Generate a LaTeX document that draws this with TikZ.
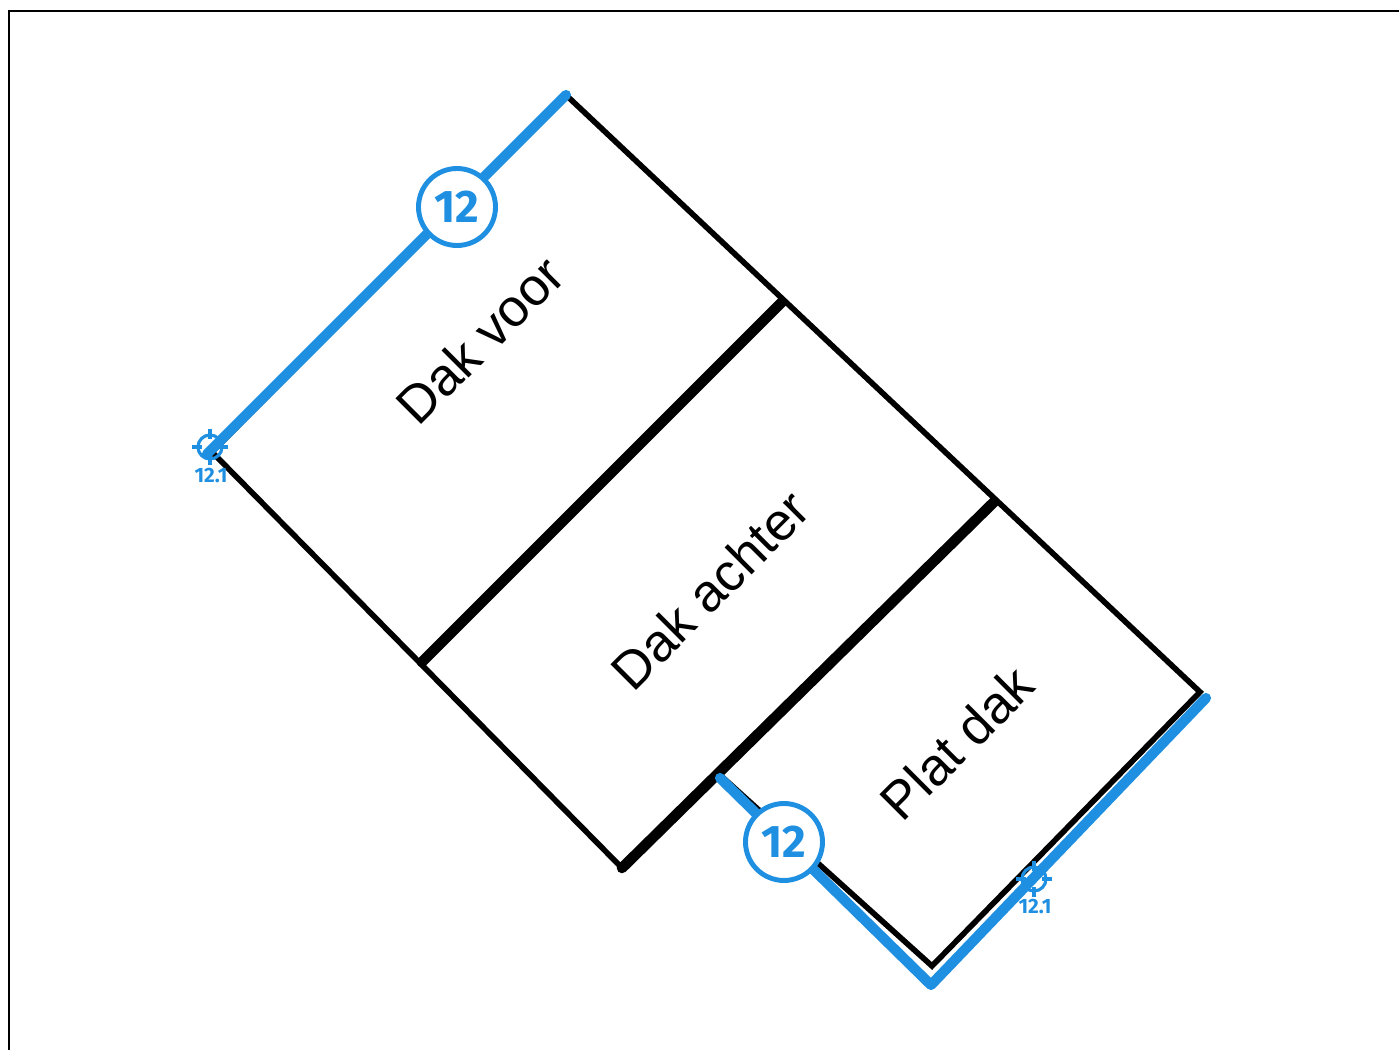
\documentclass[tikz,border=0pt]{standalone}
\usepackage{fontspec}
\setmainfont{Liberation Sans}
\newfontfamily\badgefont{Fira Sans}
\definecolor{dakblue}{HTML}{1E8FE1}
\tikzset{
    edge/.style={line width=1.6pt, line cap=round, line join=miter},
    ridge/.style={line width=3pt, line cap=round},
    measure/.style={dakblue, line width=2.9pt, line cap=round, line join=round},
    badge/.style={circle, draw=dakblue, fill=white, line width=1.4pt, minimum size=0.77cm, inner sep=0pt,
        text=dakblue, font=\badgefont\bfseries\fontsize{13}{13}\selectfont},
    roofname/.style={rotate=45, font=\fontsize{15}{15}\selectfont},
    pointname/.style={text=dakblue, inner sep=0pt, font=\badgefont\bfseries\fontsize{5.9}{5.9}\selectfont},
    target/.pic={
        \draw[dakblue, line width=0.9pt] (0,0) circle (0.12);
        \draw[dakblue, line width=0.9pt] (-0.18,0) -- (-0.08,0) (0.08,0) -- (0.18,0)
            (0,-0.18) -- (0,-0.08) (0,0.08) -- (0,0.18);
    }
}
\begin{document}
\begin{tikzpicture}
    \useasboundingbox (0,0) rectangle (13.99,10.5);

    % Frame
    \coordinate (framebl) at (0.09,0);
    \coordinate (frametl) at (0.09,10.39);
    \coordinate (frametr) at (13.99,10.39);
    \draw[line width=0.85pt] (framebl) -- (frametl) -- (frametr);

    % Corners of the roof
    \coordinate (top) at (5.66,9.55);
    \coordinate (left) at (2.12,5.98);
    \coordinate (bottom) at (6.22,1.82);
    \coordinate (right) at (12.0,3.58);
    \coordinate (low) at (9.32,0.84);
    \coordinate (ridgeAa) at (7.82,7.48);
    \coordinate (ridgeAb) at (4.22,3.88);
    \coordinate (ridgeBa) at (9.94,5.48);
    \coordinate (flat) at (7.2,2.75);

    % Draw the roof
    \draw[edge] (left) -- (top) -- (right) -- (low) -- (flat);
    \draw[edge] (left) -- (bottom);
    \draw[ridge] (ridgeAa) -- (ridgeAb);
    \draw[ridge] (ridgeBa) -- (bottom);

    % Names of the roof parts
    \node[roofname] (voor) at (4.8,7.1) {Dak voor};
    \node[roofname] (achter) at (7.1,4.6) {Dak achter};
    \node[roofname] (plat) at (9.57,3.07) {Plat dak};

    % Draw the measured edges
    \pic at (2.1,6.03) {target};
    \pic at (10.34,1.71) {target};
    \coordinate (blueA) at (5.66,9.55);
    \coordinate (blueB) at (2.07,5.96);
    \coordinate (blueC) at (7.2,2.72);
    \coordinate (blueD) at (9.31,0.65);
    \coordinate (blueE) at (12.06,3.52);
    \draw[measure] (blueA) -- (blueB);
    \draw[measure] (blueC) -- (blueD) -- (blueE);

    % Badges and point names
    \node[badge] (badgeA) at (4.57,8.43) {12};
    \node[badge] (badgeB) at (7.84,2.08) {12};
    \node[pointname] (pointA) at (2.11,5.74) {12.1};
    \node[pointname] (pointB) at (10.35,1.43) {12.1};
\end{tikzpicture}
\end{document}
